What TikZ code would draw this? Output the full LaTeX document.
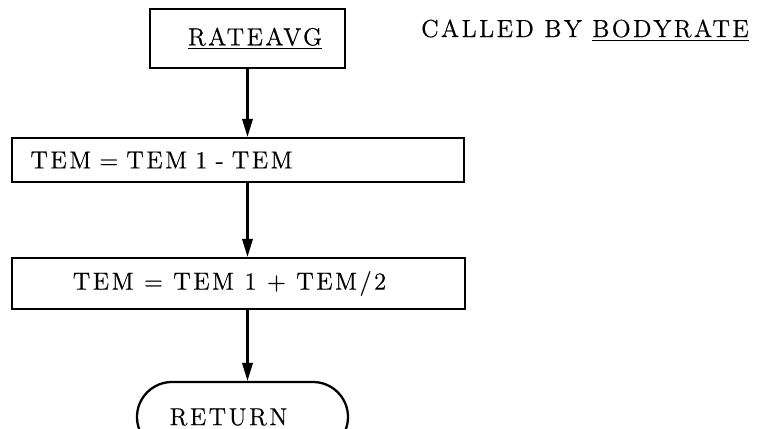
\documentclass[tikz,border=0pt]{standalone}
\usepackage{fontspec}
\newfontfamily\flowfont{Latin Modern Roman}[LetterSpace=10, FakeBold=0.6]
\usetikzlibrary{positioning,arrows.meta}

\begin{document}
\begin{tikzpicture}[
    font=\flowfont\fontsize{14}{16}\selectfont,
    box/.style={rectangle, draw, line width=1.3pt, minimum width=#1, inner sep=0pt},
    arrow/.style={-{Triangle[length=3.6mm, width=2.1mm]}, line width=1.2pt}
]
    \useasboundingbox (0,0) rectangle (15.32,8.56);

    % Flow Steps
    \node[box=3.9cm, minimum height=1.18cm] (avg) at (4.95,7.79) {\hspace{0.3cm}\underline{RATEAVG}};
    \node[box=9.04cm, minimum height=0.88cm, text width=8.3cm, inner xsep=0.37cm, align=left] (diff) at (4.76,5.36) {TEM = TEM 1 - TEM};
    \node[box=9.06cm, minimum height=1.02cm] (half) at (4.77,2.89) {TEM = TEM 1 + TEM/2\kern0.36cm};
    \node[box=4.22cm, minimum height=1.4cm, rounded corners=0.7cm] (ret) at (4.85,0.22) {RETURN\kern0.56cm};

    % Caller Note
    \node[anchor=base west] (caller) at (8.3,7.82) {CALLED BY \underline{BODYRATE}};

    % Connections
    \draw[arrow] (avg) -- (avg |- diff.north);
    \draw[arrow] (avg |- diff.south) -- (avg |- half.north);
    \draw[arrow] (avg |- half.south) -- (avg |- ret.north);
\end{tikzpicture}
\end{document}
